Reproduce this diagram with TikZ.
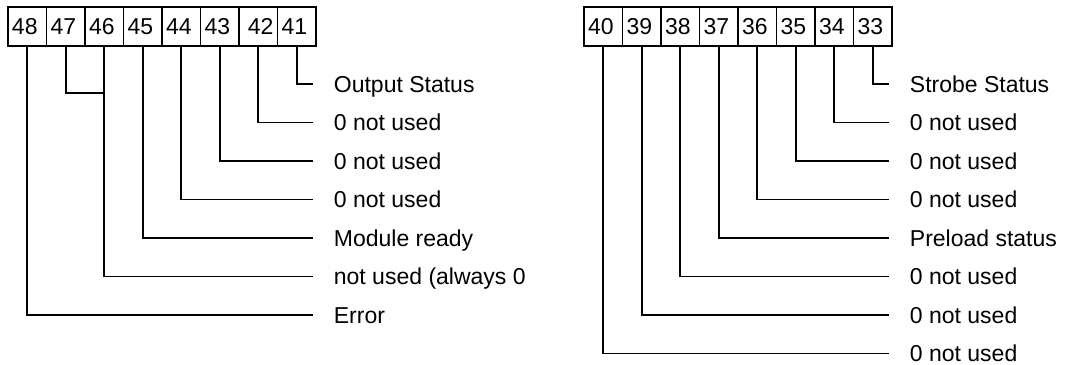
\documentclass[tikz,border=0pt]{standalone}
\usepackage{fontspec}
\setmainfont{Liberation Sans}
\usetikzlibrary{calc}

\begin{document}
\begin{tikzpicture}[x=1pt,y=-1pt,line width=1.8pt,
    font=\fontsize{23}{28}\selectfont,
    bitbox/.style={draw,rectangle,minimum width=38.5pt,minimum height=39pt,
      inner xsep=4pt,inner ysep=0pt,text width=30.5pt,
      text height=16.5pt,text depth=0pt},
    bitlabel/.style={anchor=west,inner sep=0pt,text height=16.5pt,text depth=0pt}]
  \useasboundingbox (0,0) rectangle (1067,364);
  % output status register, bits 48..41
  \foreach \n/\a [count=\i from 0] in {48/left,47/left,46/left,45/left,44/left,43/left,42/right,41/left}
    \node[bitbox,align=\a] (b\n) at ({27.25+38.5*\i},26.5) {\n};
  \foreach \n/\t/\y in {41/Output Status/84,42/0 not used/122.5,43/0 not used/161,
      44/0 not used/199.5,45/Module ready/238,46/not used (always 0/276.5,48/Error/315}
  {
    \node[bitlabel] (l\n) at (333,\y) {\t};
    \draw (b\n.south) |- ([xshift=-20pt]l\n.west);
  }
  % bit 47 joins the line of bit 46
  \coordinate (j47) at ($(b46.south)+(0,46)$);
  \draw (b47.south) |- (j47);
  % strobe status register, bits 40..33
  \foreach \n [count=\i from 0] in {40,39,...,33}
    \node[bitbox,align=left] (b\n) at ({603.25+38.5*\i},26.5) {\n};
  \foreach \n/\t/\y in {33/Strobe Status/84,34/0 not used/122.5,35/0 not used/161,
      36/0 not used/199.5,37/Preload status/238,38/0 not used/276.5,
      39/0 not used/315,40/0 not used/353.5}
  {
    \node[bitlabel] (l\n) at (909,\y) {\t};
    \draw (b\n.south) |- ([xshift=-20pt]l\n.west);
  }
\end{tikzpicture}
\end{document}
